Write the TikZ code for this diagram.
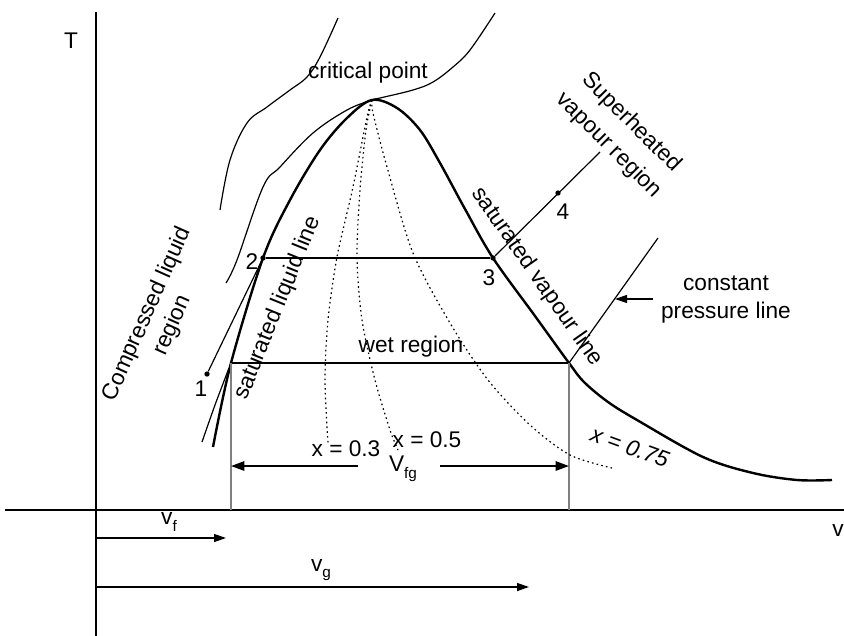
\documentclass[tikz,border=0pt]{standalone}
\usepackage{fontspec}
\setmainfont{Liberation Sans}
\usetikzlibrary{positioning}
\usetikzlibrary{arrows.meta}
\newcommand{\lowsub}[1]{\raisebox{-0.55ex}{\fontsize{11.5}{11.5}\selectfont #1}}
\tikzset{
  dome/.style={line width=1.8pt, line join=round},
  thinline/.style={line width=0.9pt},
  qline/.style={line width=0.9pt, dash pattern=on 1.2pt off 2.4pt},
  isobar/.style={line width=1.2pt},
  dimarrow/.style={line width=1.4pt, -{Triangle[length=10pt,width=7pt]}},
  lbl/.style={font=\fontsize{17}{20}\selectfont, inner sep=1pt, align=center},
  statept/.style={circle, fill=black, inner sep=0pt, minimum size=4pt},
}

\begin{document}
\begin{tikzpicture}[x=0.75pt, y=-0.75pt]
    \useasboundingbox (0,0) rectangle (844,636);

    % axes
    \coordinate (Ttop) at (96,12);
    \coordinate (Tbot) at (96,636);
    \coordinate (vleft) at (5,510);
    \coordinate (vright) at (844,510);
    \draw[line width=1.3pt] (Ttop) -- (Tbot);
    \draw[line width=1.3pt] (vleft) -- (vright);
    \node[lbl] (Tlab) at (71,41) {T};
    \node[lbl] (vlab) at (838,531) {v};

    % states
    \node[statept] (p1) at (207,374) {};
    \node[statept] (p2) at (263,258) {};
    \node[statept] (p3) at (493,258) {};
    \node[statept] (p4) at (558,193) {};
    \coordinate (cp) at (372,100);
    \coordinate (wf) at (231,363);
    \coordinate (wg) at (569,363);
    \coordinate (wfa) at (231,510);
    \coordinate (wga) at (569,510);
    \coordinate (shtop) at (600,152);
    \coordinate (cptop) at (658,238);

    % saturation dome
    \draw[dome] plot[smooth, tension=0.55] coordinates {(213,447) (wf) (p2) (290,200) (320,150) (347,118) (cp)
        (397,108) (420,130) (440,163) (465,209) (p3) (535,316) (wg) (584,382) (608,402) (637,420) (703,457) (753,473) (797,480) (832,480)};

    % isotherms
    \draw[thinline] plot[smooth, tension=0.6] coordinates {(220,210) (230,160) (247,123) (267,107) (290,90) (307,77) (320,57) (338,18)};
    \draw[thinline] plot[smooth, tension=0.6] coordinates {(226,283) (237,260) (263,187) (280,167) (313,133) (347,110) (cp)
        (380,98) (413,90) (433,82) (453,67) (470,50) (495,13)};
    \draw[thinline] plot[smooth] coordinates {(202,442) (215,405) (229,368)};
    \draw[thinline] (p1) -- (p2);

    % constant pressure lines
    \draw[isobar] (p2) -- (p3);
    \draw[isobar] (wf) -- (wg);
    \draw[thinline] (p3) -- (shtop);
    \draw[thinline] (wg) -- (cptop);
    \draw[gray, line width=0.8pt] (wf) -- (wfa);
    \draw[gray, line width=0.8pt] (wg) -- (wga);

    % dryness fraction lines
    \draw[qline] plot[smooth] coordinates {(cp) (367,117) (353,187) (337,257) (328,320) (325,380) (328,443)};
    \draw[qline] plot[smooth] coordinates {(cp) (366,130) (360,190) (357,257) (362,320) (375,380) (390,430) (398,450)};
    \draw[qline] plot[smooth] coordinates {(cp) (373,113) (387,167) (413,253) (450,323) (488,380) (530,425) (570,455) (612,468)};

    % specific volumes
    \coordinate (vfgl) at (358,466);
    \coordinate (vfgr) at (440,466);
    \coordinate (wfm) at (231,466);
    \coordinate (wgm) at (569,466);
    \draw[dimarrow] (vfgl) -- (wfm);
    \draw[dimarrow] (vfgr) -- (wgm);
    \coordinate (vfs) at (96,538);
    \coordinate (vfe) at (226,538);
    \coordinate (vgs) at (96,587);
    \coordinate (vge) at (529,587);
    \draw[line width=1pt, -{Triangle[length=9pt,width=6pt]}] (vfs) -- (vfe);
    \draw[line width=1pt, -{Triangle[length=9pt,width=6pt]}] (vgs) -- (vge);
    \node[lbl] (vfglab) at (403,469) {V\lowsub{fg}};
    \node[lbl] (vflab) at (169,522) {v\lowsub{f}};
    \node[lbl] (vglab) at (321,570) {v\lowsub{g}};

    % pressure line pointer
    \coordinate (ptail) at (653,299);
    \coordinate (phead) at (615,299);
    \draw[line width=0.9pt, -{Triangle[length=9pt,width=6pt]}] (ptail) -- (phead);
    \node[lbl] (cplab) at (726,300) {constant\\[1pt]pressure line};

    % labels
    \node[lbl] (critlab) at (368,73) {critical point};
    \node[lbl] (wetlab) at (411,347) {wet region};
    \node[lbl] (n1) at (201,389) {1};
    \node[lbl] (n2) at (252,262) {2};
    \node[lbl] (n3) at (489,278) {3};
    \node[lbl] (n4) at (563,212) {4};
    \node[lbl] (x03) at (346,449) {x = 0.3};
    \node[lbl] (x05) at (427,440) {x = 0.5};
    \node[lbl, rotate=-20] (x075) at (630,447) {\itshape x = 0.75};
    \node[lbl, rotate=-45] (shlab) at (620,134) {Superheated\\[4pt]vapour region};
    \node[lbl, rotate=-55] (svlab) at (537,277) {saturated vapour line};
    \node[lbl, rotate=68] (sllab) at (278,308) {saturated liquid line};
    \node[lbl, rotate=66] (cllab) at (160,320) {Compressed liquid\\[1pt]region};
\end{tikzpicture}
\end{document}
